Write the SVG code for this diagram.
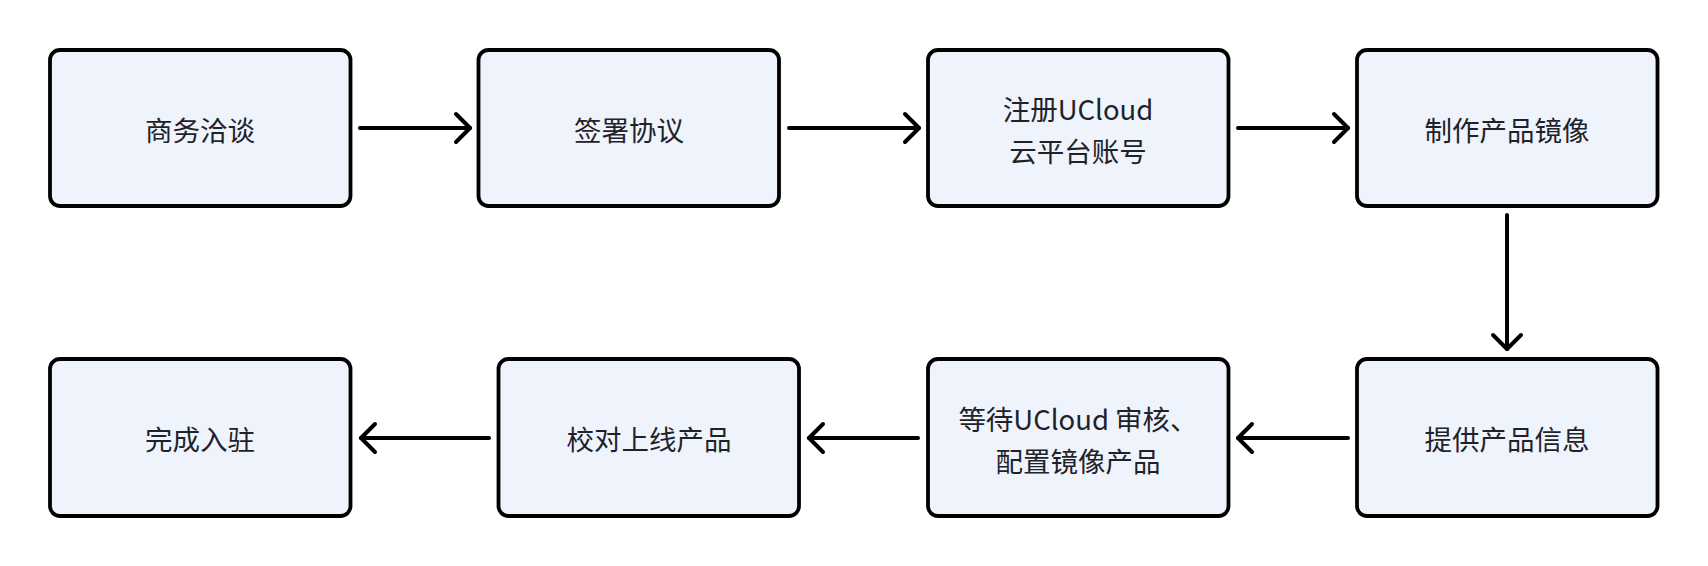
<svg xmlns="http://www.w3.org/2000/svg" width="1708" height="566" viewBox="0 0 1708 566">
  <style>
    .box { fill: #EFF4FC; stroke: #000000; stroke-width: 3.8; }
    .lbl { font-family: "Noto Sans CJK SC", "Noto Sans", sans-serif; font-size: 27.5px; fill: #1F2329; text-anchor: middle; dominant-baseline: central; }
    .edge { fill: none; stroke: #000000; stroke-width: 4; stroke-linecap: round; }
  </style>
  <defs>
    <marker id="arrow" markerUnits="userSpaceOnUse" markerWidth="40" markerHeight="40" viewBox="-20 -20 40 40" refX="0" refY="0" orient="auto">
      <path d="M-14,-14 L0,0 L-14,14" fill="none" stroke="#000000" stroke-width="4" stroke-linecap="round" stroke-linejoin="round"/>
    </marker>
  </defs>
  <rect width="1708" height="566" fill="#FFFFFF"/>

  <g id="connectors">
    <line class="edge" x1="360" y1="128" x2="470" y2="128" marker-end="url(#arrow)"/>
    <line class="edge" x1="789" y1="128" x2="919" y2="128" marker-end="url(#arrow)"/>
    <line class="edge" x1="1238" y1="128" x2="1348" y2="128" marker-end="url(#arrow)"/>
    <line class="edge" x1="1507" y1="215" x2="1507" y2="349" marker-end="url(#arrow)"/>
    <line class="edge" x1="1348" y1="438" x2="1238" y2="438" marker-end="url(#arrow)"/>
    <line class="edge" x1="918" y1="438" x2="809" y2="438" marker-end="url(#arrow)"/>
    <line class="edge" x1="489" y1="438" x2="361" y2="438" marker-end="url(#arrow)"/>
  </g>

  <g id="node-1">
    <rect class="box" x="50" y="50" width="300.5" height="156" rx="10"/>
    <text class="lbl" x="200" y="128.5">商务洽谈</text>
  </g>
  <g id="node-2">
    <rect class="box" x="478.5" y="50" width="300.5" height="156" rx="10"/>
    <text class="lbl" x="629" y="128.5">签署协议</text>
  </g>
  <g id="node-3">
    <rect class="box" x="928" y="50" width="300.5" height="156" rx="10"/>
    <text class="lbl" x="1078" y="108">注册UCloud</text>
    <text class="lbl" x="1078" y="149.5">云平台账号</text>
  </g>
  <g id="node-4">
    <rect class="box" x="1357" y="50" width="300.5" height="156" rx="10"/>
    <text class="lbl" x="1507" y="128.5">制作产品镜像</text>
  </g>
  <g id="node-5">
    <rect class="box" x="1357" y="359" width="300.5" height="157" rx="10"/>
    <text class="lbl" x="1507" y="438">提供产品信息</text>
  </g>
  <g id="node-6">
    <rect class="box" x="928" y="359" width="300.5" height="157" rx="10"/>
    <text class="lbl" x="1078" y="417.5">等待UCloud 审核、</text>
    <text class="lbl" x="1078" y="459.5">配置镜像产品</text>
  </g>
  <g id="node-7">
    <rect class="box" x="498.5" y="359" width="300.5" height="157" rx="10"/>
    <text class="lbl" x="649" y="438">校对上线产品</text>
  </g>
  <g id="node-8">
    <rect class="box" x="50" y="359" width="300.5" height="157" rx="10"/>
    <text class="lbl" x="200" y="438">完成入驻</text>
  </g>
</svg>
